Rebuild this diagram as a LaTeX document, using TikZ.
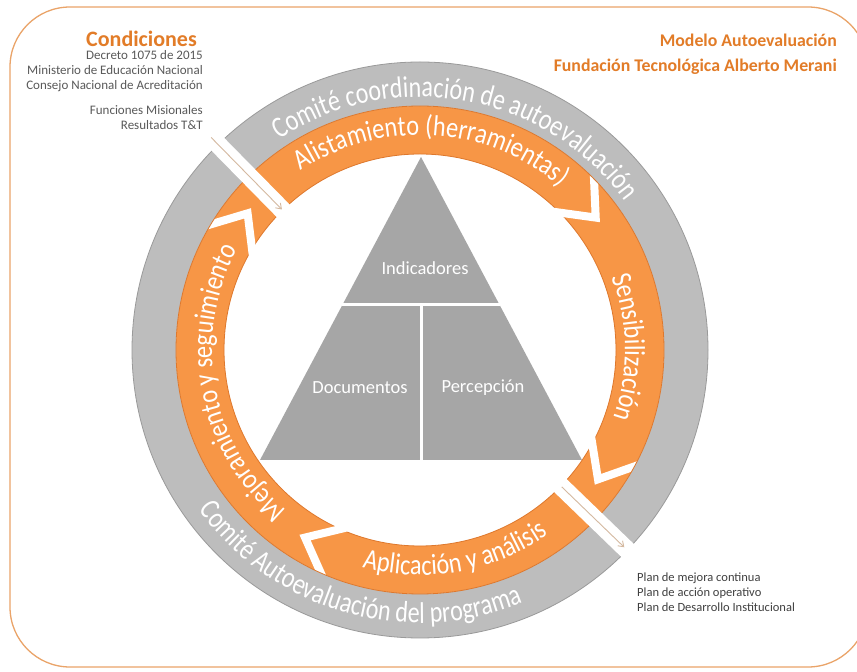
\documentclass[tikz,border=0pt]{standalone}
\usepackage{fontspec}
\setmainfont{Carlito}
\newfontfamily\gringfam[FakeStretch=0.80]{Carlito}
\newfontfamily\oringfam[FakeStretch=0.84]{Carlito}
\usetikzlibrary{decorations.text,arrows.meta,calc}
\definecolor{orfill}{HTML}{F79646}
\definecolor{oredge}{RGB}{222,120,45}
\definecolor{grfill}{HTML}{BDBDBD}
\definecolor{gredge}{HTML}{9A9A9A}
\definecolor{trifill}{HTML}{A6A6A6}
\definecolor{titleor}{RGB}{226,124,40}
\definecolor{bordor}{RGB}{234,164,105}
\definecolor{smalltxt}{HTML}{595959}
\definecolor{plantxt}{HTML}{404040}
\definecolor{arrowc}{RGB}{212,185,160}
\newcommand\gtxt{\gringfam\fontsize{30}{36}\selectfont\color{white}}
\newcommand\otxt{\oringfam\fontsize{29}{35}\selectfont\color{white}}
\tikzset{
  ringtext/.style={decorate, text=white, decoration={text along path, text align=center, text={#1}}},
  chev/.style={white, line width=8pt, miter limit=10},
  gapband/.style={fill=white},
  flowarrow/.style={draw=arrowc, line width=0.9pt, -{Straight Barb[length=5pt,width=7pt]}},
  tritext/.style={text=white, font=\fontsize{18.5}{22}\selectfont},
  smallleft/.style={text=smalltxt, font=\fontsize{13}{15}\selectfont, inner sep=0pt},
  plan/.style={text=plantxt, font=\fontsize{12.5}{15}\selectfont, inner sep=0pt},
  title/.style={text=titleor, font=\bfseries\fontsize{17.8}{21}\selectfont, inner sep=0pt}
}
\begin{document}
\begin{tikzpicture}[x=1pt,y=1pt]
\useasboundingbox (0,0) rectangle (857,672);
\clip (0,0) rectangle (857,672);
\fill[white] (0,0) rectangle (857,672);
\draw[bordor, line width=1.3pt, rounded corners=60pt] (10,5) rectangle (868,665);

\begin{scope}[shift={(420,322)}]
  % orange ring
  \path[fill=orfill, even odd rule] (0,0) circle[radius=244] (0,0) circle[radius=196];
  \draw[oredge, line width=0.8pt] (0,0) circle[radius=196];
  % chevrons
  \foreach \v/\e in {37/44.5, -36/-28.5, 238.5/246, 141.6/149}{
    \draw[chev] ($(\v:220)!1.3!(\e:244)$) -- (\v:220) -- ($(\v:220)!1.3!(\e:196)$);
  }
  % gray ring
  \path[fill=grfill, even odd rule] (0,0) circle[radius=288] (0,0) circle[radius=244];
  \draw[gredge, line width=0.8pt] (0,0) circle[radius=288];
  \draw[oredge, line width=0.8pt] (0,0) circle[radius=244];
  % gaps
  \fill[gapband, rotate=134.5] (190,-9) rectangle (305,9);
  \fill[gapband, rotate=-44] (190,-9) rectangle (305,9);
  % arrows
  \coordinate (inS) at (134.5:298);
  \coordinate (inE) at (134.5:197);
  \coordinate (outS) at (-44:197);
  \coordinate (outE) at (-44:284);
  \draw[flowarrow] (inS) -- (inE);
  \draw[flowarrow] (outS) -- (outE);
  % ring texts
  \path[ringtext={|\gtxt|Comité coordinación de autoevaluación}] (139.8:253) arc[start angle=139.8, end angle=19.8, radius=253];
  \path[ringtext={|\gtxt|Comité Autoevaluación del programa}] (194:273) arc[start angle=194, end angle=314, radius=273];
  \path[ringtext={|\otxt|Alistamiento (herramientas)}] (146.5:215) arc[start angle=146.5, end angle=26.5, radius=215];
  \path[ringtext={|\otxt|Sensibilización}] (50.75:205) arc[start angle=50.75, end angle=-49.25, radius=205];
  \path[ringtext={|\otxt|Aplicación y análisis}] (230:225) arc[start angle=230, end angle=330, radius=225];
  \path[ringtext={|\otxt|Mejoramiento y seguimiento}] (240.7:208) arc[start angle=240.7, end angle=140.7, radius=208];
\end{scope}

% triangle
\fill[trifill] (421,515) -- (582,212) -- (260,212) -- cycle;
\draw[white, line width=3pt] (342.4,367) -- (499.6,367);
\draw[white, line width=3pt] (421,367) -- (421,210);
\node[tritext] (ind) at (425,404) {Indicadores};
\node[tritext] (doc) at (360,284) {Documentos};
\node[tritext] (per) at (483,284) {Percepción};

% top-left texts
\node[title, font=\bfseries\fontsize{22}{26}\selectfont, anchor=base east] (cond) at (197,625) {Condiciones};
\node[smallleft, anchor=base east] (dec) at (203,612) {Decreto 1075 de 2015};
\node[smallleft, anchor=base east] (men) at (203,597) {Ministerio de Educación Nacional};
\node[smallleft, anchor=base east] (cna) at (203,582) {Consejo Nacional de Acreditación};
\node[smallleft, anchor=base east] (fun) at (203,557) {Funciones Misionales};
\node[smallleft, anchor=base east] (res) at (203,542) {Resultados T\&T};

% top-right texts
\node[title, anchor=base east] (mod) at (837,625) {Modelo Autoevaluación};
\node[title, anchor=base east] (fund) at (837,600) {Fundación Tecnológica Alberto Merani};

% bottom-right texts
\node[plan, anchor=base west] (p1) at (637,90) {Plan de mejora continua};
\node[plan, anchor=base west] (p2) at (637,75) {Plan de acción operativo};
\node[plan, anchor=base west] (p3) at (637,60) {Plan de Desarrollo Institucional};
\end{tikzpicture}
\end{document}
